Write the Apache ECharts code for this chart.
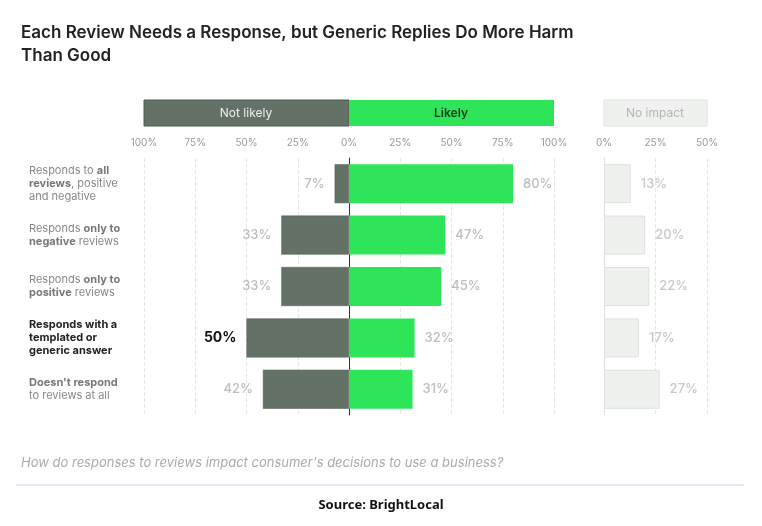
<!DOCTYPE html>
<html><head><meta charset="utf-8">
<script src="https://cdn.jsdelivr.net/npm/echarts@6/dist/echarts.min.js"></script>
<style>html,body{margin:0;padding:0;background:#fff}#c{width:762px;height:526px}</style>
</head><body><div id="c"></div>
<script>
const categories = [
  "Responds to {b|all}\n{b|reviews}, positive\nand negative",
  "Responds {b|only to}\n{b|negative} reviews",
  "Responds {b|only to}\n{b|positive} reviews",
  "{k|Responds with a}\n{k|templated or}\n{k|generic answer}",
  "{b|Doesn't respond}\nto reviews at all"
];
const notLikely = [7, 33, 33, 50, 42];
const likely = [80, 47, 45, 32, 31];
const noImpact = [13, 20, 22, 17, 27];
const highlightRow = 3;

const chart = echarts.init(document.getElementById('c'));
const lbl = {show:true, color:'#bdbdbd', fontSize:13, fontWeight:500, fontFamily:'Inter', distance:10};
const catAxis = (gi, show) => ({
  type:'category', gridIndex:gi, data:categories, inverse:true,
  axisTick:{show:false},
  axisLine:{show:true, onZero:true, lineStyle:{color: gi===0?'#333':'#ddd', width:1}},
  axisLabel:{show:show, align:'left', margin:115, color:'#888', fontSize:11, lineHeight:13, fontFamily:'Inter',
    rich:{b:{fontWeight:700,color:'#777',fontSize:11,fontFamily:'Inter'},k:{fontWeight:700,color:'#222',fontSize:11,fontFamily:'Inter'}}}
});
const valAxis = (gi,min,max) => ({
  type:'value', gridIndex:gi, min:min, max:max, interval:25, position:'top',
  axisLine:{show:false}, axisTick:{show:false},
  axisLabel:{color:'#999', fontSize:10, fontFamily:'Inter', margin:10, formatter:v=>Math.abs(v)+'%'},
  splitLine:{show:true, lineStyle:{color:'#e6e6e6', type:'dashed'}}
});
chart.setOption({
  animation:false,
  title:[
    {text:'Each Review Needs a Response, but Generic Replies Do More Harm\nThan Good', left:16, top:16,
     textStyle:{fontSize:17, fontWeight:600, color:'#222', lineHeight:23, fontFamily:'Inter'}},
    {text:"How do responses to reviews impact consumer's decisions to use a business?", left:16, top:452,
     textStyle:{fontSize:13, fontStyle:'italic', fontWeight:400, color:'#aaa', fontFamily:'Inter'}},
    {text:'Source: BrightLocal', left:'center', top:494, textStyle:{fontSize:13, fontWeight:700, color:'#111', fontFamily:'Noto Sans'}}
  ],
  graphic:[
    {type:'rect', shape:{x:144,y:100,width:205,height:26}, style:{fill:'#637166',stroke:'#4e5a51'}},
    {type:'text', x:246, y:113, style:{text:'Not likely', fill:'#eee', fontSize:12, fontFamily:'Inter', align:'center', verticalAlign:'middle'}},
    {type:'rect', shape:{x:349,y:100,width:205,height:26}, style:{fill:'#2ee55a'}},
    {type:'text', x:451, y:113, style:{text:'Likely', fill:'#173d20', fontSize:12, fontWeight:600, fontFamily:'Inter', align:'center', verticalAlign:'middle'}},
    {type:'rect', shape:{x:604,y:100,width:103,height:26}, style:{fill:'#eef1ee',stroke:'#e0e4e0'}},
    {type:'text', x:655, y:113, style:{text:'No impact', fill:'#b5b5b5', fontSize:12, fontFamily:'Inter', align:'center', verticalAlign:'middle'}},
    {type:'line', shape:{x1:16,y1:485,x2:744,y2:485}, style:{stroke:'#cfc8ee',lineWidth:1}}
  ],
  grid:[
    {left:144, width:410, top:158, height:257},
    {left:604, width:103, top:158, height:257}
  ],
  xAxis:[valAxis(0,-100,100), valAxis(1,0,50)],
  yAxis:[catAxis(0,true), catAxis(1,false)],
  series:[
    {type:'bar', xAxisIndex:0, yAxisIndex:0, stack:'a', barWidth:39,
     itemStyle:{color:'#637166', borderColor:'#4e5a51', borderWidth:0.5},
     data:notLikely.map((v,i)=>({value:-v, label: i===highlightRow?{color:'#111',fontWeight:700,fontSize:14}:undefined})),
     label:Object.assign({}, lbl, {position:'left', formatter:p=>Math.abs(p.value)+'%'})},
    {type:'bar', xAxisIndex:0, yAxisIndex:0, stack:'a', barWidth:39,
     itemStyle:{color:'#2ee55a'}, data:likely,
     label:Object.assign({}, lbl, {position:'right', formatter:'{c}%'})},
    {type:'bar', xAxisIndex:1, yAxisIndex:1, barWidth:39,
     itemStyle:{color:'#eef1ee', borderColor:'#dde2dd', borderWidth:1}, data:noImpact,
     label:Object.assign({}, lbl, {position:'right', color:'#c8c8c8', formatter:'{c}%'})}
  ]
});
</script></body></html>
